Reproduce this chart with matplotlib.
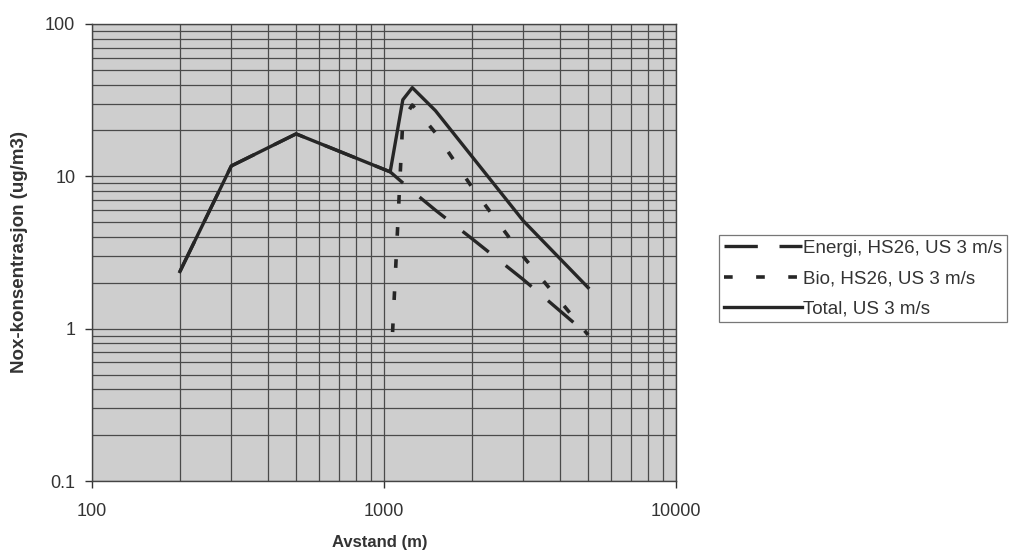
import matplotlib.pyplot as plt
import numpy as np

plt.rcParams['font.family'] = ['Liberation Sans', 'DejaVu Sans']

# distance (m) and NOx concentration (ug/m3)
energi_x = [200, 300, 500, 1050, 1250, 1500, 2000, 3000, 5000]
energi_y = [2.37, 11.7, 19.0, 10.7, 8.0, 6.0, 3.9, 2.1, 0.91]

bio_x = [1070, 1160, 1250, 1500, 2000, 3000, 5000]
bio_y = [0.95, 23.5, 29.4, 19.3, 8.5, 2.97, 0.91]

total_x = [200, 300, 500, 1050, 1160, 1250, 1500, 3000, 5000]
total_y = [2.37, 11.7, 19.0, 10.7, 31.8, 38.2, 27.0, 5.1, 1.86]

labels = ['Energi, HS26, US 3 m/s', 'Bio, HS26, US 3 m/s', 'Total, US 3 m/s']
line_col = '#262626'

fig = plt.figure(figsize=(10.09, 5.56), dpi=100)
ax = fig.add_axes([92/1009, 1-481/556, (676-92)/1009, (481-24)/556])
ax.set_facecolor('#cecece')

ax.plot(energi_x, energi_y, color=line_col, lw=2.4, dashes=(10, 6.5), label=labels[0])
ax.plot(bio_x, bio_y, color=line_col, lw=2.6, dashes=(2.4, 6.5), label=labels[1])
ax.plot(total_x, total_y, color=line_col, lw=2.4, label=labels[2])

ax.set_xscale('log')
ax.set_yscale('log')
ax.set_xlim(100, 10000)
ax.set_ylim(0.1, 100)
ax.set_xticks([100, 1000, 10000])
ax.set_xticklabels(['100', '1000', '10000'])
ax.set_yticks([0.1, 1, 10, 100])
ax.set_yticklabels(['0.1', '1', '10', '100'])

ax.grid(True, which='both', color='#4a4a4a', lw=0.9)
ax.set_axisbelow(True)
ax.tick_params(which='minor', length=0)
ax.tick_params(axis='y', which='major', length=5, width=1, pad=7, labelsize=13, colors='#333333')
ax.tick_params(axis='x', which='major', length=5, width=1, pad=11, labelsize=13, colors='#333333')
for s in ax.spines.values():
    s.set_color('#444444')
    s.set_linewidth(1)

fig.text(380/1009, 1-542/556, 'Avstand (m)', ha='center', va='center',
         fontsize=12, fontweight='bold', color='#333333')
fig.text(20/1009, 1-252/556, 'Nox-konsentrasjon (ug/m3)', ha='center', va='center',
         rotation=90, fontsize=13.5, fontweight='bold', color='#333333')

leg = ax.legend(loc='upper left', bbox_to_anchor=(719/1009, 1-235/556),
                bbox_transform=fig.transFigure, fontsize=13.5, frameon=True,
                fancybox=False, edgecolor='#777777', framealpha=1,
                handlelength=4.15, handletextpad=0.1, labelspacing=0.7,
                borderpad=0.25, borderaxespad=0)
leg.get_frame().set_linewidth(0.9)
for t in leg.get_texts():
    t.set_color('#333333')

fig.savefig('out.png', dpi=100)
